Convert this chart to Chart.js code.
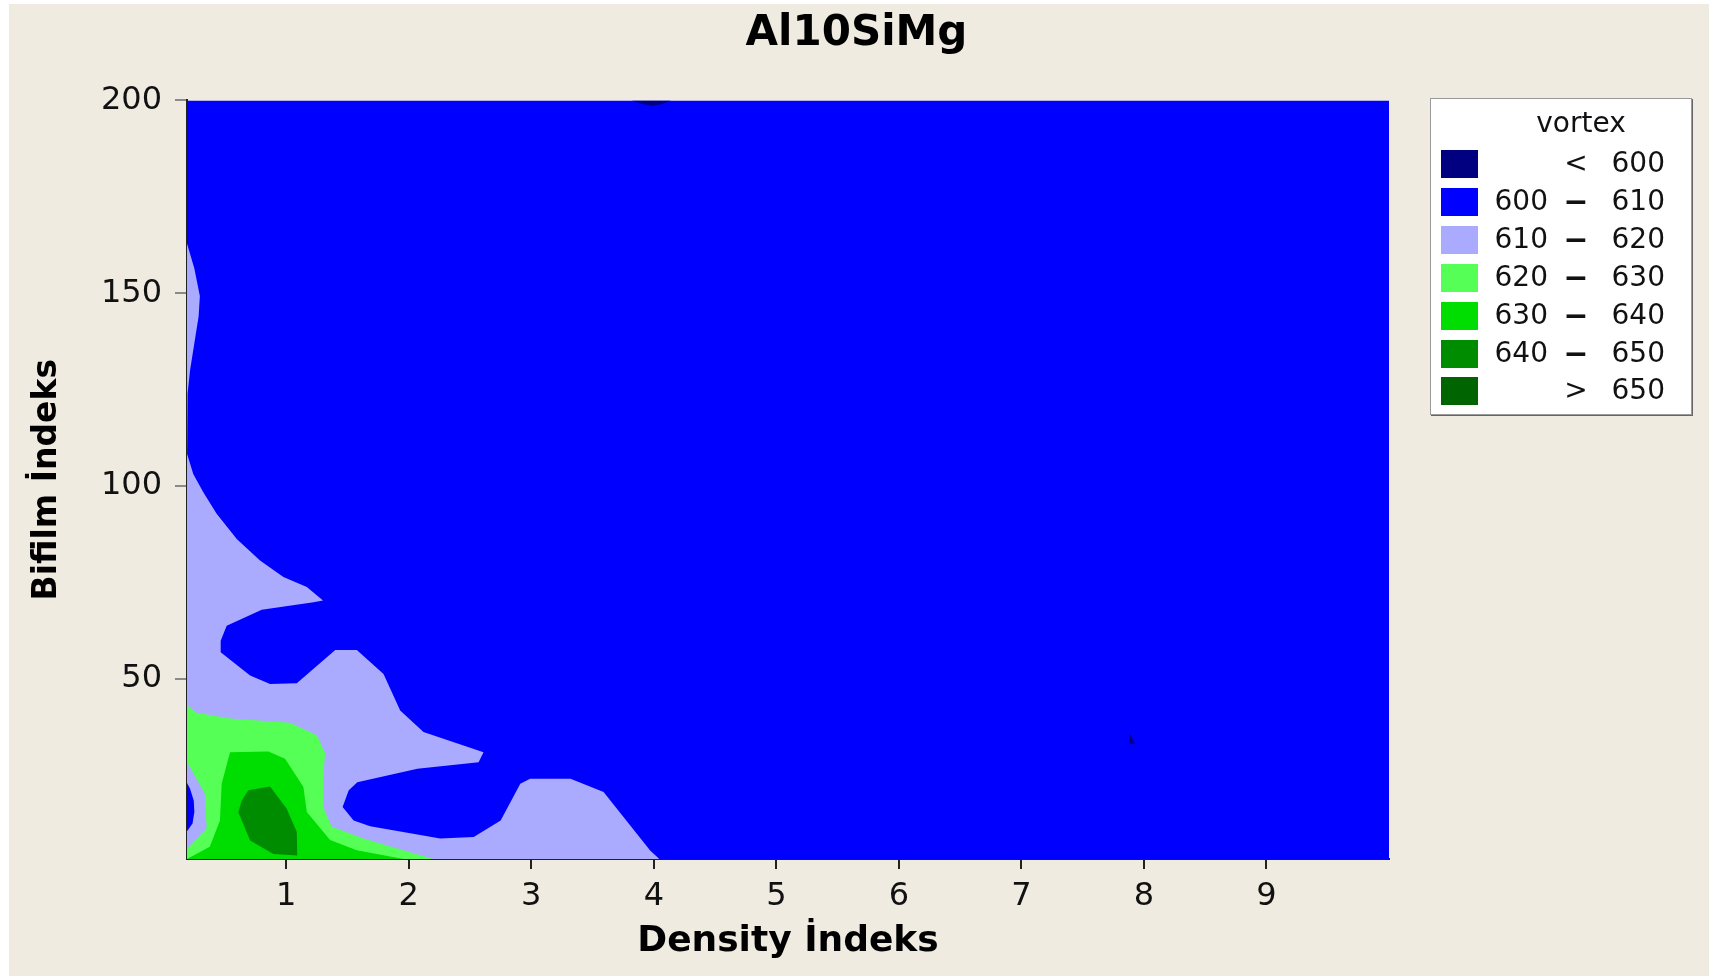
<!DOCTYPE html>
<html>
<head>
<meta charset="utf-8">
<title>Al10SiMg</title>
<script src="https://cdn.jsdelivr.net/npm/chart.js@4"></script>
<style>
  body { margin: 0; background: #fff; }
  #wrap { position: relative; width: 1713px; height: 978px; }
  #chart { position: absolute; left: 0; top: 0; }
  #legend {
    position: absolute; left: 1430px; top: 98px; width: 260px; height: 315px;
    background: #fff; border: 1px solid #9a9a9a; box-shadow: 1px 1px 0 #666;
    font-family: 'DejaVu Sans', sans-serif; font-size: 28px; color: #111;
  }
  #legend span { position: absolute; height: 28px; line-height: 28px; white-space: nowrap; }
</style>
</head>
<body>
<div id="wrap">
  <canvas id="chart" width="1713" height="978"></canvas>
  <div id="legend"></div>
</div>
<script>
// axis ranges and ticks
const xRange = [0.19, 10]
const yRange = [3.3, 200]
const xTickValues = [1, 2, 3, 4, 5, 6, 7, 8, 9]
const yTickValues = [50, 100, 150, 200]

// vortex bands, legend order
const bandLow = [null, 600, 610, 620, 630, 640, 650]
const bandHigh = [600, 610, 620, 630, 640, 650, null]
const bandColors = ['#000080', '#0000FF', '#AAAAFF', '#55FF55', '#00DD00', '#008C00', '#006400']

// contour regions (Density, Bifilm)
const region600x = [0.19, 0.19, 10, 10]
const region600y = [3.3, 200, 200, 3.3]

const region610x = [0.19, 0.19, 0.25, 0.295, 0.285, 0.25, 0.215, 0.195, 0.19,
  0.192, 0.241, 0.323, 0.432, 0.596, 0.786, 0.977, 1.168, 1.30,
  1.223, 0.80, 0.514, 0.465, 0.465, 0.705, 0.868, 1.086,
  1.40, 1.576, 1.794, 1.93, 2.12, 2.61, 2.57, 2.07,
  1.58, 1.51, 1.46, 1.55, 1.685, 2.257, 2.53, 2.75,
  2.91, 2.99, 3.32, 3.59, 3.97, 4.045]
const region610y = [3.3, 162.9, 156.4, 149.3, 144, 137, 130, 124, 118,
  108.3, 103.1, 98.4, 92.8, 86.3, 80.7, 76.4, 73.8, 70.3,
  69.9, 67.9, 63.8, 59.9, 56.9, 50.9, 48.7, 48.9,
  57.5, 57.5, 51.3, 41.8, 36.2, 31.0, 28.4, 26.7,
  23.2, 21.1, 16.8, 13.3, 11.8, 8.6, 9.0, 13.3,
  22.8, 24.1, 24.1, 20.7, 5.5, 3.3]

const spot600x = [0.19, 0.19, 0.215, 0.245, 0.25, 0.235]
const spot600y = [10.5, 23.0, 21.5, 18.5, 15.5, 12.5]

const region620x = [0.19, 0.19, 0.35, 0.337, 0.19, 0.19, 0.269, 0.541, 1.03, 1.25, 1.317, 1.30, 1.30, 1.37, 1.63, 1.957, 2.20]
const region620y = [3.3, 6.0, 11.2, 20.2, 28.4, 43.1, 41.2, 39.7, 38.6, 35.4, 30.7, 23.8, 16.9, 11.7, 8.6, 5.6, 3.3]

const region630x = [0.19, 0.376, 0.459, 0.473, 0.541, 0.854, 0.99, 1.086, 1.14, 1.168, 1.358, 1.576, 1.957]
const region630y = [3.3, 6.5, 13.3, 22.8, 31.0, 31.2, 29.3, 24.6, 22.0, 15.5, 8.2, 5.6, 3.3]

const region640x = [0.609, 0.636, 0.69, 0.868, 1.004, 1.086, 1.09, 0.895, 0.705]
const region640y = [15.4, 18.4, 21.1, 22.1, 16.3, 10.3, 4.2, 4.6, 8.1]

const lowTopX = [3.82, 3.9, 3.98, 4.06, 4.14]
const lowTopY = [200, 199.1, 198.6, 199.0, 200]
const lowDotX = [7.885, 7.88, 7.93]
const lowDotY = [35.9, 33.3, 33.0]

// bottom layer first
const regions = [
  { xs: region600x, ys: region600y, band: 1 },
  { xs: region610x, ys: region610y, band: 2 },
  { xs: spot600x, ys: spot600y, band: 1 },
  { xs: region620x, ys: region620y, band: 3 },
  { xs: region630x, ys: region630y, band: 4 },
  { xs: region640x, ys: region640y, band: 5 },
  { xs: lowTopX, ys: lowTopY, band: 0 },
  { xs: lowDotX, ys: lowDotY, band: 0 }
]

const datasets = regions.map((r, i) => ({
  data: r.xs.map((x, j) => ({ x, y: r.ys[j] })),
  showLine: true,
  fill: 'shape',
  clip: false,
  backgroundColor: bandColors[r.band],
  borderColor: 'transparent',
  borderWidth: 0,
  pointRadius: 0,
  tension: 0,
  order: regions.length - i
}))

const pageBackground = {
  id: 'pageBackground',
  beforeDraw (chart) {
    const ctx = chart.ctx
    ctx.save()
    ctx.fillStyle = '#EFEBE1'
    ctx.fillRect(9, 4, 1700, 972)
    ctx.restore()
  }
}

const tickFont = { family: 'DejaVu Sans', size: 32 }

new Chart(document.getElementById('chart'), {
  type: 'scatter',
  data: { datasets },
  options: {
    responsive: false,
    animation: false,
    events: [],
    layout: { padding: 0 },
    plugins: {
      legend: { display: false },
      tooltip: { enabled: false },
      title: {
        display: true,
        text: 'Al10SiMg',
        color: '#000',
        font: { family: 'DejaVu Sans', size: 42, weight: 'bold' },
        padding: { top: 9, bottom: 41 }
      }
    },
    scales: {
      x: {
        type: 'linear',
        min: xRange[0],
        max: xRange[1],
        afterBuildTicks: s => { s.ticks = xTickValues.map(v => ({ value: v })) },
        afterFit: s => { s.height = 119 },
        ticks: { color: '#111', font: tickFont, padding: 8, maxRotation: 0 },
        grid: { drawOnChartArea: false, drawTicks: true, tickLength: 10, color: '#222', lineWidth: 2 },
        border: { display: true, color: '#222', width: 2 },
        title: { display: true, text: 'Density İndeks', color: '#000', font: { family: 'DejaVu Sans', size: 36, weight: 'bold' }, padding: { top: 0, bottom: 15 } }
      },
      y: {
        type: 'linear',
        min: yRange[0],
        max: yRange[1],
        afterBuildTicks: s => { s.ticks = yTickValues.map(v => ({ value: v })) },
        afterFit: s => { s.width = 187 },
        ticks: { color: '#111', font: tickFont, padding: 13 },
        grid: { drawOnChartArea: false, drawTicks: true, tickLength: 12, color: '#8a8a8a', lineWidth: 2 },
        border: { display: true, color: '#222', width: 2 },
        title: { display: true, text: 'Bifilm İndeks', color: '#000', font: { family: 'DejaVu Sans', size: 33, weight: 'bold' }, padding: { top: 28, bottom: 0 } }
      },
      right: {
        type: 'linear',
        position: 'right',
        display: true,
        afterFit: s => { s.width = 324 },
        ticks: { display: false },
        grid: { display: false },
        border: { display: false }
      }
    }
  },
  plugins: [pageBackground]
})

// legend built from the band arrays
const legend = document.getElementById('legend')
const head = document.createElement('span')
head.textContent = 'vortex'
head.style.left = '0px'
head.style.width = '300px'
head.style.textAlign = 'center'
head.style.top = '10px'
head.style.height = '32px'
legend.appendChild(head)

bandColors.forEach((color, i) => {
  const top = 51 + i * 37.9
  const sw = document.createElement('span')
  sw.style.cssText = `left:10px;top:${top}px;width:37px;height:28px;background:${color};`
  legend.appendChild(sw)

  let cells
  if (bandLow[i] === null) cells = ['', '<', bandHigh[i]]
  else if (bandHigh[i] === null) cells = ['', '>', bandLow[i]]
  else cells = [bandLow[i], '–', bandHigh[i]]

  const boxes = [[55, 62, 'right'], [130, 30, 'center'], [170, 64, 'right']]
  cells.forEach((txt, k) => {
    const s = document.createElement('span')
    s.textContent = txt
    s.style.left = boxes[k][0] + 'px'
    s.style.width = boxes[k][1] + 'px'
    s.style.textAlign = boxes[k][2]
    s.style.top = (top - 1) + 'px'
    if (txt === '–') {
      s.style.transform = 'scaleX(1.7)'
      s.style.fontWeight = 'bold'
    }
    legend.appendChild(s)
  })
})
</script>
</body>
</html>
